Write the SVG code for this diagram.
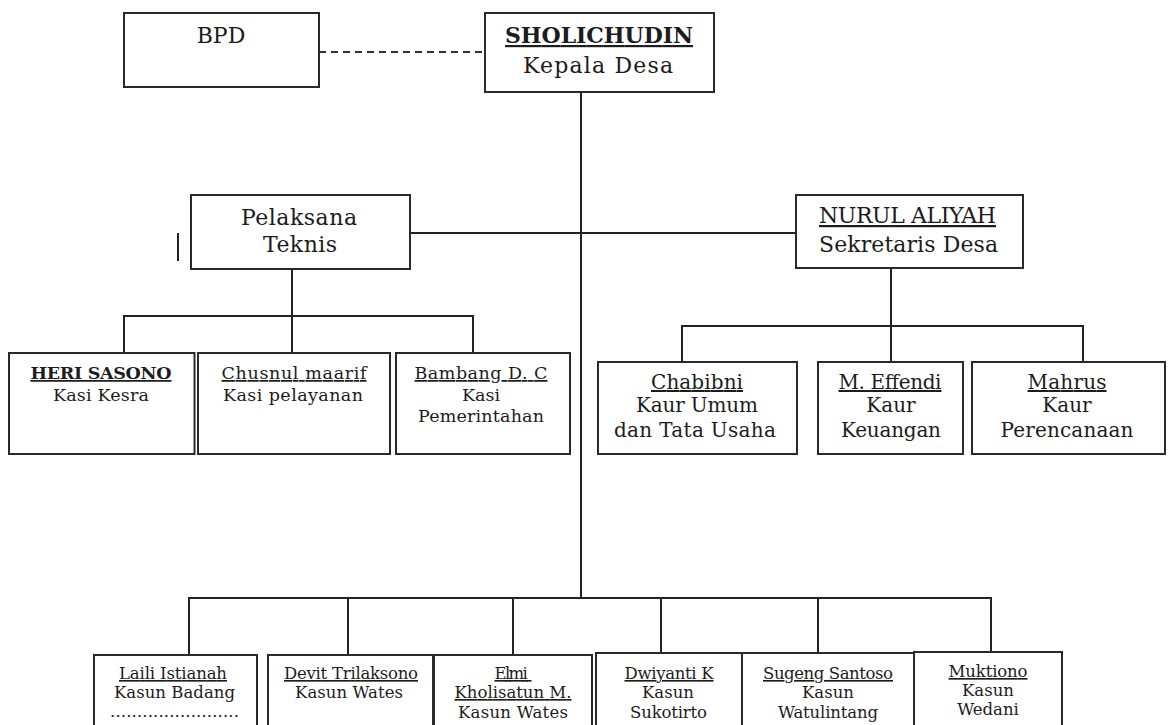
<svg xmlns="http://www.w3.org/2000/svg" width="1169" height="725" viewBox="0 0 1169 725">
<style>
rect.box{fill:#fff;stroke:#2a2a2a;stroke-width:2}
.ln{stroke:#222;stroke-width:2;fill:none}
.dash{stroke:#333;stroke-width:2;stroke-dasharray:7 5;fill:none}
text{font-family:"DejaVu Serif","Liberation Serif",serif;fill:#1c1c1c;text-anchor:middle}
.t1{font-size:22px}
.t2{font-size:17.5px}
.t3{font-size:20px}
.t4{font-size:16.5px}
.b{font-weight:bold}
.u{text-decoration:underline}
</style>
<rect width="1169" height="725" fill="#fff"/>
<g id="connectors">
<line class="dash" x1="319" y1="52" x2="485" y2="52"/>
<line class="ln" x1="581" y1="92" x2="581" y2="599"/>
<line class="ln" x1="410" y1="233" x2="796" y2="233"/>
<line class="ln" x1="292" y1="269" x2="292" y2="353"/>
<line class="ln" x1="123" y1="316" x2="474" y2="316"/>
<line class="ln" x1="124" y1="316" x2="124" y2="353"/>
<line class="ln" x1="473" y1="316" x2="473" y2="353"/>
<line class="ln" x1="891" y1="268" x2="891" y2="362"/>
<line class="ln" x1="681" y1="326" x2="1084" y2="326"/>
<line class="ln" x1="682" y1="326" x2="682" y2="362"/>
<line class="ln" x1="1083" y1="326" x2="1083" y2="362"/>
<line class="ln" x1="188" y1="598" x2="992" y2="598"/>
<line class="ln" x1="189" y1="598" x2="189" y2="655"/>
<line class="ln" x1="348" y1="598" x2="348" y2="655"/>
<line class="ln" x1="513" y1="598" x2="513" y2="655"/>
<line class="ln" x1="661" y1="598" x2="661" y2="653"/>
<line class="ln" x1="818" y1="598" x2="818" y2="653"/>
<line class="ln" x1="991" y1="598" x2="991" y2="652"/>
</g>
<g id="mark">
<line class="ln" x1="178" y1="233" x2="178" y2="261"/>
</g>
<g id="bpd">
<rect class="box" x="124" y="13" width="195" height="74"/>
<text class="t1" x="221" y="43">BPD</text>
</g>
<g id="kepala-desa">
<rect class="box" x="485" y="13" width="229" height="79"/>
<text class="t1 b u" x="599" y="43" textLength="188">SHOLICHUDIN</text>
<text class="t1" x="598" y="73" textLength="150">Kepala Desa</text>
</g>
<g id="pelaksana-teknis">
<rect class="box" x="191" y="195" width="219" height="74"/>
<text class="t1" x="299" y="225" textLength="116">Pelaksana</text>
<text class="t1" x="300" y="252" textLength="74">Teknis</text>
</g>
<g id="sekretaris-desa">
<rect class="box" x="796" y="195" width="227" height="73"/>
<text class="t1 u" x="907.5" y="223" textLength="177">NURUL ALIYAH</text>
<text class="t1" x="908.5" y="252" textLength="179">Sekretaris Desa</text>
</g>
<g id="kasi-kesra">
<rect class="box" x="9" y="353" width="185.5" height="101"/>
<text class="t2 b u" x="101" y="379" textLength="141">HERI SASONO</text>
<text class="t2" x="101" y="401" textLength="96">Kasi Kesra</text>
</g>
<g id="kasi-pelayanan">
<rect class="box" x="198" y="353" width="192" height="101"/>
<text class="t2 u" x="294" y="379" textLength="145">Chusnul maarif</text>
<text class="t2" x="293" y="401" textLength="140">Kasi pelayanan</text>
</g>
<g id="kasi-pemerintahan">
<rect class="box" x="396" y="353" width="174" height="101"/>
<text class="t2 u" x="481" y="379" textLength="133">Bambang D. C</text>
<text class="t2" x="481" y="401">Kasi</text>
<text class="t2" x="481" y="422" textLength="126">Pemerintahan</text>
</g>
<g id="kaur-umum">
<rect class="box" x="598" y="362" width="199" height="92"/>
<text class="t3 u" x="697" y="389" textLength="92">Chabibni</text>
<text class="t3" x="697" y="412" textLength="122">Kaur Umum</text>
<text class="t3" x="695" y="437" textLength="162">dan Tata Usaha</text>
</g>
<g id="kaur-keuangan">
<rect class="box" x="818" y="362" width="145" height="92"/>
<text class="t3 u" x="890" y="389" textLength="103">M. Effendi</text>
<text class="t3" x="891" y="412">Kaur</text>
<text class="t3" x="891" y="437" textLength="100">Keuangan</text>
</g>
<g id="kaur-perencanaan">
<rect class="box" x="972" y="362" width="193" height="92"/>
<text class="t3 u" x="1067" y="389" textLength="79">Mahrus</text>
<text class="t3" x="1067" y="412">Kaur</text>
<text class="t3" x="1067" y="437" textLength="133">Perencanaan</text>
</g>
<g id="kasun-badang">
<rect class="box" x="94" y="655" width="163" height="90"/>
<text class="t4 u" x="173" y="679" textLength="108">Laili Istianah</text>
<text class="t4" x="174.5" y="698" textLength="121">Kasun Badang</text>
<text class="t4" x="174.5" y="717" textLength="129">........................</text>
</g>
<g id="kasun-wates-1">
<rect class="box" x="268" y="655" width="165" height="90"/>
<text class="t4 u" x="351" y="679" textLength="134">Devit Trilaksono</text>
<text class="t4" x="349" y="698" textLength="108">Kasun Wates</text>
</g>
<g id="kasun-wates-2">
<rect class="box" x="434" y="655" width="158" height="90"/>
<text class="t4 u" x="513" y="679" textLength="37">Elmi&#160;</text>
<text class="t4 u" x="513" y="698" textLength="117">Kholisatun M.</text>
<text class="t4" x="513" y="718" textLength="110">Kasun Wates</text>
</g>
<g id="kasun-sukotirto">
<rect class="box" x="596" y="653" width="146" height="90"/>
<text class="t4 u" x="669" y="679" textLength="89">Dwiyanti K</text>
<text class="t4" x="668" y="698">Kasun</text>
<text class="t4" x="668.5" y="718" textLength="77">Sukotirto</text>
</g>
<g id="kasun-watulintang">
<rect class="box" x="742" y="653" width="172" height="90"/>
<text class="t4 u" x="828" y="679" textLength="130">Sugeng Santoso</text>
<text class="t4" x="828" y="698">Kasun</text>
<text class="t4" x="828" y="718" textLength="100">Watulintang</text>
</g>
<g id="kasun-wedani">
<rect class="box" x="914" y="652" width="148" height="90"/>
<text class="t4 u" x="988" y="677" textLength="79">Muktiono</text>
<text class="t4" x="988" y="696">Kasun</text>
<text class="t4" x="988" y="715">Wedani</text>
</g>
</svg>
